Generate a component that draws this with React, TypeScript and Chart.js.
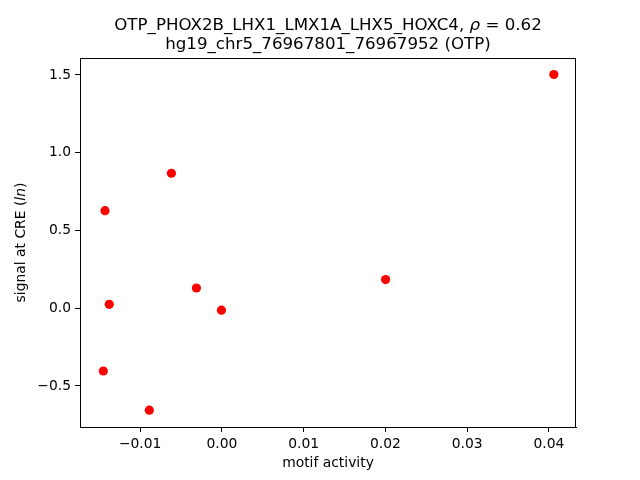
import React, { useEffect, useRef } from "react";
import { Chart, registerables } from "chart.js";

Chart.register(...registerables);

const motifActivity: number[] = [-0.0143, -0.01378, -0.01451, -0.00888, -0.00618, -0.00312, -0.00006, 0.02002, 0.0406];
const signalAtCRE: number[] = [0.627, 0.025, -0.404, -0.656, 0.868, 0.13, -0.013, 0.184, 1.503];
const xTickValues: number[] = [-0.01, 0.0, 0.01, 0.02, 0.03, 0.04];
const yTickValues: number[] = [-0.5, 0.0, 0.5, 1.0, 1.5];
const xRange: number[] = [-0.01736, 0.04331];
const yRange: number[] = [-0.764, 1.609];
const titleLine1Pre = "OTP_PHOX2B_LHX1_LMX1A_LHX5_HOXC4, ";
const titleRho = "ρ";
const titleLine1Post = " = 0.62";
const titleLine2 = "hg19_chr5_76967801_76967952 (OTP)";
const xLabel = "motif activity";
const yLabelPre = "signal at CRE (";
const yLabelItalic = "ln";
const yLabelPost = ")";

const FONT = "'DejaVu Sans', sans-serif";
const minus = (s: string) => s.replace("-", "\u2212");

const decorPlugin = {
  id: "decor",
  afterDraw(chart: any) {
    const ctx = chart.ctx as CanvasRenderingContext2D;
    const a = chart.chartArea;
    ctx.save();
    // frame
    ctx.strokeStyle = "#000";
    ctx.lineWidth = 1;
    ctx.strokeRect(Math.round(a.left) + 0.5, Math.round(a.top) + 0.5, Math.round(a.right - a.left) - 1, Math.round(a.bottom - a.top));
    const cx = (a.left + a.right) / 2;
    ctx.fillStyle = "#000";
    ctx.textBaseline = "alphabetic";
    // title line 1 (mixed)
    const tf = `16.67px ${FONT}`;
    const tfi = `italic 16.67px ${FONT}`;
    ctx.font = tf;
    const w1 = ctx.measureText(titleLine1Pre).width;
    const w3 = ctx.measureText(titleLine1Post).width;
    ctx.font = tfi;
    const w2 = ctx.measureText(titleRho).width;
    let x = cx - (w1 + w2 + w3) / 2;
    ctx.textAlign = "left";
    ctx.font = tf;
    ctx.fillText(titleLine1Pre, x, 29.6);
    x += w1;
    ctx.font = tfi;
    ctx.fillText(titleRho, x, 29.6);
    x += w2;
    ctx.font = tf;
    ctx.fillText(titleLine1Post, x, 29.6);
    // title line 2
    ctx.textAlign = "center";
    ctx.fillText(titleLine2, cx, 49.3);
    // x label
    ctx.font = `13.89px ${FONT}`;
    ctx.fillText(xLabel, cx, 467);
    // y label (rotated, mixed)
    const lf = `13.89px ${FONT}`;
    const lfi = `italic 13.89px ${FONT}`;
    ctx.font = lf;
    const p1 = ctx.measureText(yLabelPre).width;
    const p3 = ctx.measureText(yLabelPost).width;
    ctx.font = lfi;
    const p2 = ctx.measureText(yLabelItalic).width;
    const cy = (a.top + a.bottom) / 2;
    ctx.translate(25, cy);
    ctx.rotate(-Math.PI / 2);
    ctx.textAlign = "left";
    let lx = -(p1 + p2 + p3) / 2;
    ctx.font = lf;
    ctx.fillText(yLabelPre, lx, 0);
    lx += p1;
    ctx.font = lfi;
    ctx.fillText(yLabelItalic, lx, 0);
    lx += p2;
    ctx.font = lf;
    ctx.fillText(yLabelPost, lx, 0);
    ctx.restore();
  },
};

export default function App() {
  const ref = useRef<HTMLCanvasElement | null>(null);
  useEffect(() => {
    if (!ref.current) return;
    const chart = new Chart(ref.current, {
      type: "scatter",
      data: {
        datasets: [
          {
            data: motifActivity.map((v, i) => ({ x: v, y: signalAtCRE[i] })),
            backgroundColor: "#ff0000",
            borderColor: "#ff0000",
            borderWidth: 0,
            pointRadius: 4.6,
            pointHoverRadius: 4.6,
          },
        ],
      },
      options: {
        animation: false,
        responsive: false,
        devicePixelRatio: 1,
        layout: { padding: { top: 58, right: 64, left: 0, bottom: 0 } },
        plugins: { legend: { display: false }, title: { display: false }, tooltip: { enabled: false } },
        scales: {
          x: {
            type: "linear",
            min: xRange[0],
            max: xRange[1],
            afterFit: (s: any) => {
              s.height = 53;
            },
            afterBuildTicks: (s: any) => {
              s.ticks = xTickValues.map((v) => ({ value: v }));
            },
            grid: { display: true, drawOnChartArea: false, drawTicks: true, tickLength: 5, color: "#000", tickColor: "#000" },
            border: { display: true, color: "#000", width: 1 },
            ticks: {
              padding: 4,
              color: "#000",
              font: { family: FONT, size: 13.89 },
              maxRotation: 0,
              autoSkip: false,
              callback: (v: any) => minus(Number(v).toFixed(2)),
            },
          },
          y: {
            type: "linear",
            min: yRange[0],
            max: yRange[1],
            afterFit: (s: any) => {
              s.width = 80;
            },
            afterBuildTicks: (s: any) => {
              s.ticks = yTickValues.map((v) => ({ value: v }));
            },
            grid: { display: true, drawOnChartArea: false, drawTicks: true, tickLength: 5, color: "#000", tickColor: "#000" },
            border: { display: true, color: "#000", width: 1 },
            ticks: {
              padding: 4,
              color: "#000",
              font: { family: FONT, size: 13.89 },
              autoSkip: false,
              callback: (v: any) => minus(Number(v).toFixed(1)),
            },
          },
        },
      },
      plugins: [decorPlugin],
    });
    return () => chart.destroy();
  }, []);
  return (
    <div style={{ position: "absolute", left: 0, top: 0, width: 640, height: 480, background: "#fff" }}>
      <canvas ref={ref} width={640} height={480} style={{ width: 640, height: 480 }} />
    </div>
  );
}
